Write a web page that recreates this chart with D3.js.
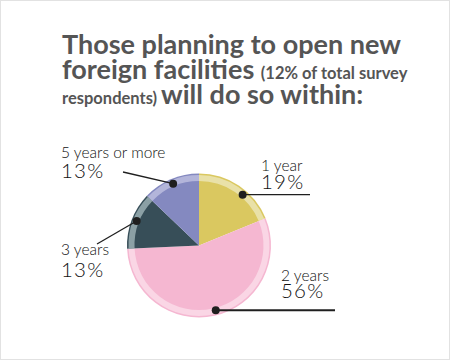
<!DOCTYPE html>
<html>
<head>
<meta charset="utf-8">
<script src="https://cdn.jsdelivr.net/npm/d3@7"></script>
<style>
  html, body { margin: 0; padding: 0; background: #fff; }
  svg { display: block; }
</style>
</head>
<body>
<svg id="chart" width="450" height="360"></svg>
<script>
const categories = ["1 year", "2 years", "3 years", "5 years or more"];
const values = [19, 56, 13, 13];
const percentLabels = ["19%", "56%", "13%", "13%"];
const titleLines = [
  [{t: "Those planning to open new", big: true}],
  [{t: "foreign facilities ", big: true}, {t: "(12% of total survey", big: false}],
  [{t: "respondents) ", big: false}, {t: "will do so within:", big: true}]
];

const mainColors = ["#dac860", "#f5b7d1", "#374e58", "#8489c0"];
const lightColors = ["#e9e1a8", "#fad6e5", "#8ba0a5", "#b3b5da"];

const svg = d3.select("#chart");
const W = 450, H = 360;

svg.append("rect").attr("x", 0.5).attr("y", 0.5).attr("width", W - 1).attr("height", H - 1)
  .attr("fill", "#fff").attr("stroke", "#e2e2e2");

// Title
const title = svg.append("text").attr("x", 62).attr("font-family", "Lato, 'Open Sans', sans-serif")
  .attr("font-weight", 700).attr("fill", "#555555");
const baselines = [54, 79, 104];
titleLines.forEach((line, i) => {
  line.forEach((seg, j) => {
    const ts = title.append("tspan").text(seg.t)
      .attr("font-size", seg.big ? 27 : 16.5);
    if (j === 0) ts.attr("x", 62).attr("y", baselines[i]);
  });
});

// Pie
const cx = 199, cy = 245.5;
const R = 72, bandOuter = 70.5, bandInner = 64.5;
const pie = d3.pie().sort(null).value(d => d);
const arcs = pie(values);
const g = svg.append("g").attr("transform", `translate(${cx},${cy})`);

const arcMain = d3.arc().innerRadius(0).outerRadius(R);
const arcBand = d3.arc().innerRadius(bandInner).outerRadius(bandOuter);

g.selectAll("path.main").data(arcs).join("path").attr("class", "main")
  .attr("d", arcMain).attr("fill", (d, i) => mainColors[i]);
g.selectAll("path.band").data(arcs).join("path").attr("class", "band")
  .attr("d", arcBand).attr("fill", (d, i) => lightColors[i]);

// Leader dots and lines
const dotFrac = [0.6, 0.49, 0.52, 0.51];
const dotR = 67;
function dotPos(d, i) {
  const a = d.startAngle + (d.endAngle - d.startAngle) * dotFrac[i];
  return [cx + dotR * Math.sin(a), cy - dotR * Math.cos(a)];
}
const dots = arcs.map(dotPos);
const lineEnds = [
  [310, dots[0][1]],
  [335, dots[1][1]],
  [97, 244],
  [123, 172]
];
const lineWidths = [1.3, 2, 1.3, 1.3];

arcs.forEach((d, i) => {
  svg.append("line")
    .attr("x1", dots[i][0]).attr("y1", dots[i][1])
    .attr("x2", lineEnds[i][0]).attr("y2", lineEnds[i][1])
    .attr("stroke", "#1f1f1f").attr("stroke-width", lineWidths[i]);
  svg.append("circle").attr("cx", dots[i][0]).attr("cy", dots[i][1]).attr("r", 4)
    .attr("fill", "#1f1f1f");
});

// Labels
const labelPos = [
  {x: 261, y1: 171, y2: 189},
  {x: 281, y1: 281, y2: 298},
  {x: 61, y1: 255, y2: 277},
  {x: 61, y1: 158, y2: 178}
];
arcs.forEach((d, i) => {
  const p = labelPos[i];
  svg.append("text").attr("x", p.x).attr("y", p.y1)
    .attr("font-family", "Lato, 'Open Sans', sans-serif").attr("font-size", 15.5)
    .attr("font-weight", 300).attr("fill", "#111").text(categories[i]);
  svg.append("text").attr("x", p.x).attr("y", p.y2)
    .attr("font-family", "Lato, 'Open Sans', sans-serif").attr("font-size", 20.5)
    .attr("font-weight", 300).attr("letter-spacing", 1.2)
    .attr("fill", "#111").text(percentLabels[i]);
});
</script>
</body>
</html>
